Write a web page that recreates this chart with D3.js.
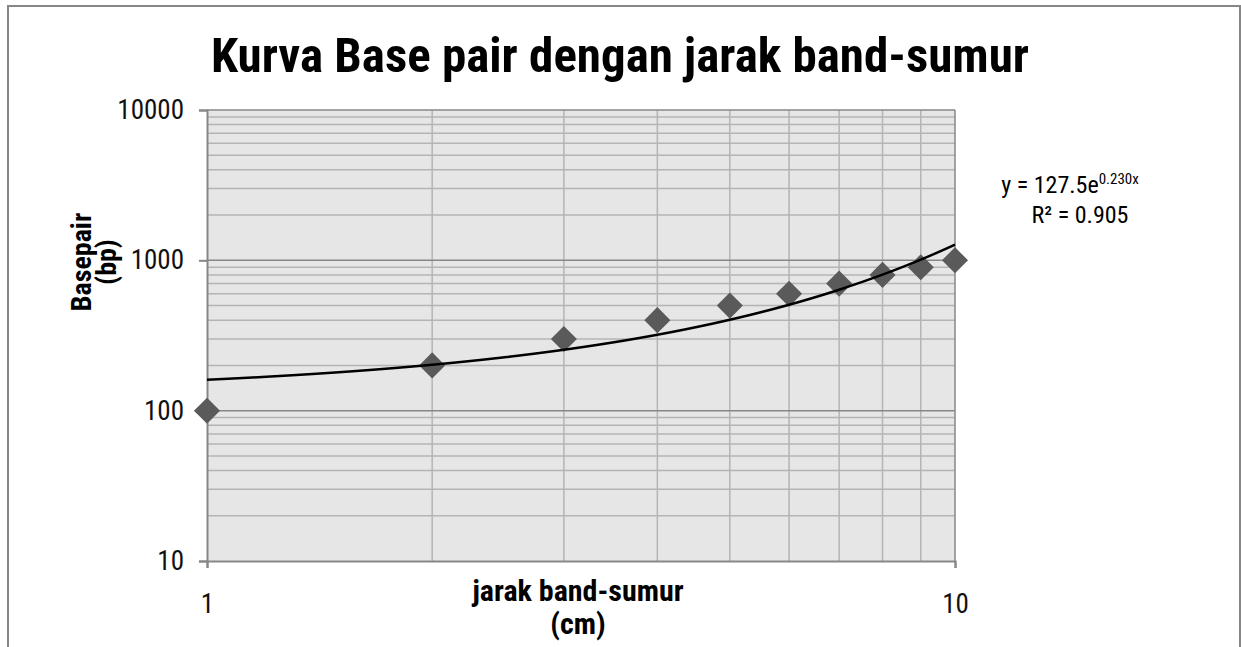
<!DOCTYPE html>
<html><head><meta charset="utf-8">
<script src="https://cdn.jsdelivr.net/npm/d3@7"></script>
<style>
html,body{margin:0;padding:0;background:#fff;}
svg{display:block;}
text{font-family:"Liberation Sans Narrow","Arial Narrow","Roboto Condensed",sans-serif;}
</style></head>
<body>
<svg id="chart" width="1241" height="647"></svg>
<script>
const titleText = "Kurva Base pair dengan jarak band-sumur";
const xLabelLines = ["jarak band-sumur", "(cm)"];
const yLabelLines = ["Basepair", "(bp)"];
const distances = [1, 2, 3, 4, 5, 6, 7, 8, 9, 10];
const basepairs = [100, 200, 300, 400, 500, 600, 700, 800, 900, 1000];
const xTickValues = [1, 10];
const yTickValues = [10, 100, 1000, 10000];
const trendA = 127.5, trendB = 0.230;
const trendEqMain = "y = 127.5e";
const trendEqSup = "0.230x";
const trendR2 = "R² = 0.905";

const svg = d3.select("#chart");
const L = 207, R = 955, T = 110, B = 561;

// outer border
svg.append("rect").attr("x", 8).attr("y", 6).attr("width", 1232).attr("height", 700)
  .attr("fill", "#fff").attr("stroke", "#878787").attr("stroke-width", 2);

const x = d3.scaleLog().domain([1, 10]).range([L, R]);
const y = d3.scaleLog().domain([10, 10000]).range([B, T]);

// plot background
svg.append("rect").attr("x", L).attr("y", T).attr("width", R - L).attr("height", B - T)
  .attr("fill", "#e6e6e6");

// minor gridlines
const minorY = [];
[10, 100, 1000].forEach(d => { for (let k = 2; k <= 9; k++) minorY.push(d * k); });
const minorX = d3.range(2, 10);
const g = svg.append("g");
g.selectAll(".my").data(minorY).join("line")
  .attr("x1", L).attr("x2", R).attr("y1", d => y(d)).attr("y2", d => y(d))
  .attr("stroke", "#b4b4b4").attr("stroke-width", 1.5);
g.selectAll(".mx").data(minorX).join("line")
  .attr("y1", T).attr("y2", B).attr("x1", d => x(d)).attr("x2", d => x(d))
  .attr("stroke", "#b4b4b4").attr("stroke-width", 1.5);
// major horizontal gridlines
g.selectAll(".My").data(yTickValues.filter(d => d > 10)).join("line")
  .attr("x1", L).attr("x2", R).attr("y1", d => y(d)).attr("y2", d => y(d))
  .attr("stroke", "#878787").attr("stroke-width", 1.5);
g.append("line").attr("x1", x(10)).attr("x2", x(10)).attr("y1", T).attr("y2", B)
  .attr("stroke", "#878787").attr("stroke-width", 1.5);

// axes
const yAxis = d3.axisLeft(y).tickValues(yTickValues).tickFormat(d3.format("d"))
  .tickSize(8).tickPadding(15);
const yg = svg.append("g").attr("transform", `translate(${L},0)`).call(yAxis);
yg.select(".domain").attr("stroke", "#878787").attr("stroke-width", 2);
yg.selectAll(".tick line").attr("stroke", "#878787").attr("stroke-width", 2);
yg.selectAll(".tick text").attr("font-size", 27).attr("fill", "#111")
  .attr("font-family", '"Liberation Sans Narrow","Arial Narrow",sans-serif');

const xAxis = d3.axisBottom(x).tickValues(xTickValues).tickFormat(d3.format("d"))
  .tickSize(7).tickPadding(26);
const xg = svg.append("g").attr("transform", `translate(0,${B})`).call(xAxis);
xg.select(".domain").attr("stroke", "#878787").attr("stroke-width", 2);
xg.selectAll(".tick line").attr("stroke", "#878787").attr("stroke-width", 2);
xg.selectAll(".tick text").attr("font-size", 27).attr("fill", "#111")
  .attr("font-family", '"Liberation Sans Narrow","Arial Narrow",sans-serif');

// markers
const diamond = d3.symbol().type(d3.symbolSquare).size(340);
svg.append("g").selectAll("path").data(distances).join("path")
  .attr("d", diamond)
  .attr("transform", (d, i) => `translate(${x(d)},${y(basepairs[i])}) rotate(45)`)
  .attr("fill", "#5a5a5a");

// trendline
const tx = d3.range(1, 10.0001, 0.05);
const line = d3.line().x(d => x(d)).y(d => y(trendA * Math.exp(trendB * d)));
svg.append("path").datum(tx).attr("d", line).attr("fill", "none")
  .attr("stroke", "#000").attr("stroke-width", 2.5);

// title
svg.append("text").attr("x", 620).attr("y", 72).attr("text-anchor", "middle")
  .attr("font-size", 49).attr("font-weight", "bold").attr("fill", "#000").text(titleText);

// x label
svg.append("text").attr("x", 578).attr("y", 601).attr("text-anchor", "middle")
  .attr("font-size", 30).attr("font-weight", "bold").attr("fill", "#000").text(xLabelLines[0]);
svg.append("text").attr("x", 578).attr("y", 634).attr("text-anchor", "middle")
  .attr("font-size", 30).attr("font-weight", "bold").attr("fill", "#000").text(xLabelLines[1]);

// y label
const yl = svg.append("text").attr("transform", "translate(0,262) rotate(-90)")
  .attr("text-anchor", "middle").attr("font-size", 28).attr("font-weight", "bold").attr("fill", "#000");
yl.append("tspan").attr("x", 0).attr("y", 91).text(yLabelLines[0]);
yl.append("tspan").attr("x", 0).attr("y", 116).text(yLabelLines[1]);

// trend equation
const eq = svg.append("text").attr("x", 1070).attr("y", 193).attr("text-anchor", "middle")
  .attr("font-size", 24).attr("fill", "#000");
eq.append("tspan").text(trendEqMain);
eq.append("tspan").attr("dy", -9).attr("font-size", 15).text(trendEqSup);
svg.append("text").attr("x", 1080).attr("y", 223).attr("text-anchor", "middle")
  .attr("font-size", 24).attr("fill", "#000").text(trendR2);
</script>
</body></html>
